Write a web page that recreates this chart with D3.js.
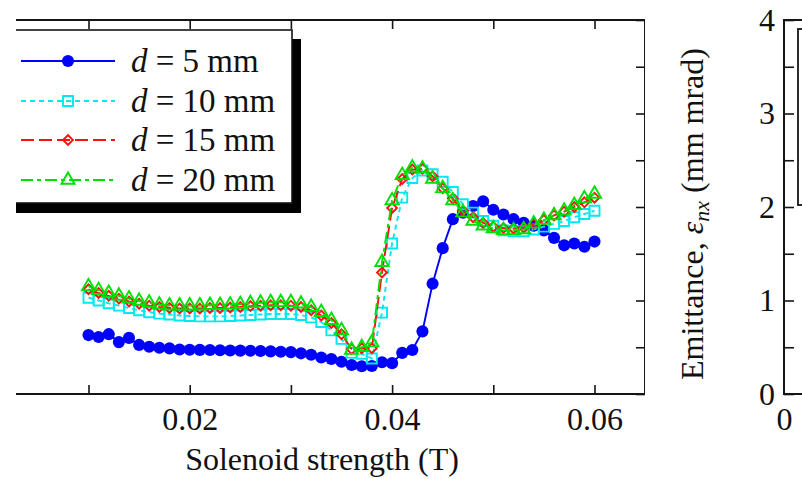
<!DOCTYPE html>
<html><head><meta charset="utf-8">
<script src="https://cdn.jsdelivr.net/npm/d3@7/dist/d3.min.js"></script>
<style>
body{margin:0;background:#fff}
svg{display:block}
text{font-family:"Liberation Serif","Times New Roman",serif;fill:#111}
</style>
</head><body>
<svg id="c" width="802" height="479"></svg>
<script>
// ---------------- data ----------------
const solenoid = [0.010,0.011,0.012,0.013,0.014,0.015,0.016,0.017,0.018,0.019,
  0.020,0.021,0.022,0.023,0.024,0.025,0.026,0.027,0.028,0.029,
  0.030,0.031,0.032,0.033,0.034,0.035,0.036,0.037,0.038,0.039,
  0.040,0.041,0.042,0.043,0.044,0.045,0.046,0.047,0.048,0.049,
  0.050,0.051,0.052,0.053,0.054,0.055,0.056,0.057,0.058,0.059,0.060];

const emit_d5 = [0.63,0.61,0.64,0.555,0.60,0.525,0.505,0.495,0.488,0.476,
  0.474,0.472,0.47,0.468,0.466,0.464,0.462,0.46,0.456,0.452,
  0.448,0.435,0.42,0.39,0.375,0.345,0.31,0.296,0.30,0.34,
  0.33,0.44,0.47,0.67,1.18,1.56,1.87,1.94,2.01,2.06,
  1.97,1.92,1.87,1.83,1.80,1.75,1.67,1.59,1.61,1.575,1.63];

const emit_d10 = [1.03,1.00,0.97,0.945,0.92,0.895,0.875,0.86,0.85,0.84,
  0.835,0.83,0.83,0.83,0.835,0.84,0.845,0.85,0.855,0.855,
  0.855,0.845,0.82,0.77,0.68,0.59,0.44,0.43,0.38,0.87,
  1.61,2.10,2.31,2.39,2.35,2.27,2.16,2.03,1.94,1.85,
  1.80,1.75,1.74,1.74,1.76,1.79,1.82,1.85,1.89,1.925,1.96];

const emit_d15 = [1.12,1.08,1.05,1.02,0.99,0.965,0.945,0.93,0.92,0.915,
  0.915,0.915,0.92,0.92,0.925,0.93,0.94,0.945,0.95,0.95,
  0.945,0.93,0.895,0.84,0.76,0.64,0.48,0.49,0.49,1.30,
  1.99,2.30,2.40,2.41,2.33,2.20,2.09,1.96,1.89,1.83,
  1.79,1.775,1.77,1.78,1.82,1.86,1.91,1.95,2.00,2.05,2.10];

const emit_d20 = [1.15,1.11,1.08,1.05,1.02,0.995,0.975,0.955,0.945,0.945,
  0.945,0.945,0.95,0.95,0.955,0.96,0.97,0.975,0.98,0.98,
  0.98,0.965,0.93,0.875,0.79,0.68,0.47,0.50,0.55,1.41,
  2.07,2.34,2.42,2.41,2.30,2.20,2.07,1.94,1.85,1.80,
  1.77,1.75,1.75,1.76,1.82,1.86,1.91,1.96,2.02,2.09,2.14];

const legendValues = ["5 mm","10 mm","15 mm","20 mm"];
const xTickValues = [0.01,0.02,0.03,0.04,0.05,0.06];
const xTickLabels = {"0.02":"0.02","0.04":"0.04","0.06":"0.06"};
const yTickValues = [0,0.5,1,1.5,2,2.5,3,3.5,4];
const yTickLabels = {"0":"0","1":"1","2":"2","3":"3","4":"4"};
const xTitle = "Solenoid strength (T)";

// ---------------- layout ----------------
const svg = d3.select("#c");
const INK = "#151515";
const L = 16, R = 645, T = 20, B = 394;
const x = d3.scaleLinear().domain([0.01,0.06]).range([88.5,594.5]);
const y = d3.scaleLinear().domain([0,4]).range([B,T]);

svg.append("defs").append("clipPath").attr("id","clipL")
  .append("rect").attr("x",L).attr("y",0).attr("width",R-L).attr("height",479);

const gL = svg.append("g").attr("clip-path","url(#clipL)");

// bottom axis (ticks inward)
const axB = d3.axisBottom(x).tickValues(xTickValues).tickSize(-9).tickPadding(13)
  .tickFormat(d => xTickLabels[d3.format(".2f")(d)] || "");
const gB = gL.append("g").attr("transform",`translate(0,${B})`).call(axB);
const axT = d3.axisTop(x).tickValues(xTickValues).tickSize(-9).tickFormat("");
const gT = gL.append("g").attr("transform",`translate(0,${T})`).call(axT);
// right axis of left panel
const axR = d3.axisRight(y).tickValues(yTickValues).tickSize(-9).tickFormat("");
const gR = gL.append("g").attr("transform",`translate(${R},0)`).call(axR);
[gB,gT,gR].forEach(g=>{
  g.select(".domain").remove();
  g.selectAll(".tick line").attr("stroke",INK).attr("stroke-width",1.6);
  g.selectAll(".tick text").attr("font-size",32).attr("fill","#111")
    .attr("font-family","'Liberation Serif',serif");
});
gL.append("path").attr("d",`M${L-2},${T}H${R}V${B}H${L-2}`)
  .attr("fill","none").attr("stroke",INK).attr("stroke-width",2);

// series
const series = [
  {vals:emit_d5,  color:"#0000ff", dash:null,        marker:"circle"},
  {vals:emit_d10, color:"#00e8f0", dash:"5,4",       marker:"square"},
  {vals:emit_d15, color:"#ff1010", dash:"13,5",      marker:"diamond"},
  {vals:emit_d20, color:"#00e000", dash:"12,4,4,4",  marker:"triangle"}
];
function markerPath(kind){
  if(kind==="circle") return d3.symbol(d3.symbolCircle, 115)();
  if(kind==="square") return d3.symbol(d3.symbolSquare, 100)();
  if(kind==="diamond") return d3.symbol(d3.symbolSquare, 48)();
  return d3.symbol(d3.symbolTriangle, 75)();
}
function drawMarker(g, s, cx, cy){
  const p = g.append("path").attr("d", markerPath(s.marker))
    .attr("transform",`translate(${cx},${cy})` + (s.marker==="diamond"?" rotate(45)":""));
  if(s.marker==="circle") p.attr("fill",s.color).attr("stroke","none");
  else p.attr("fill","none").attr("stroke",s.color).attr("stroke-width",1.9);
}
const line = d3.line().x((d,i)=>x(solenoid[i])).y(d=>y(d));
series.forEach(s=>{
  const g = gL.append("g");
  g.append("path").attr("d",line(s.vals)).attr("fill","none")
    .attr("stroke",s.color).attr("stroke-width",1.9)
    .attr("stroke-dasharray",s.dash);
  s.vals.forEach((v,i)=>drawMarker(g,s,x(solenoid[i]),y(v)));
});

// legend
const lg = gL.append("g");
lg.append("rect").attr("x",L-4).attr("y",39).attr("width",301-(L-4)).attr("height",174).attr("fill","#000");
lg.append("rect").attr("x",L-4).attr("y",30).attr("width",292-(L-4)).attr("height",173)
  .attr("fill","#fff").attr("stroke",INK).attr("stroke-width",1.6);
const rowY = [61,101,140,180];
series.forEach((s,i)=>{
  const ry = rowY[i];
  lg.append("line").attr("x1",21).attr("x2",115).attr("y1",ry).attr("y2",ry)
    .attr("stroke",s.color).attr("stroke-width",1.9).attr("stroke-dasharray",s.dash);
  drawMarker(lg,s,68,ry);
  const t = lg.append("text").attr("x",131).attr("y",ry+11).attr("font-size",33);
  t.append("tspan").attr("font-style","italic").text("d");
  t.append("tspan").text(" = " + legendValues[i]);
});

// x title
svg.append("text").attr("x",322).attr("y",470).attr("text-anchor","middle")
  .attr("font-size",32).text(xTitle);

// ---------------- right panel (partially visible) ----------------
const RX = 784;
const axR2 = d3.axisLeft(y).tickValues(yTickValues).tickSize(-10).tickPadding(9)
  .tickFormat(d => yTickLabels[String(d)] || "");
const gR2 = svg.append("g").attr("transform",`translate(${RX},0)`).call(axR2);
gR2.select(".domain").remove();
gR2.selectAll(".tick line").attr("stroke",INK).attr("stroke-width",1.6);
gR2.selectAll(".tick text").attr("font-size",32).attr("fill","#111")
  .attr("font-family","'Liberation Serif',serif");
svg.append("path").attr("d",`M806,${T}H${RX}V${B}H806`).attr("fill","none")
  .attr("stroke",INK).attr("stroke-width",2);
const x2 = d3.scaleLinear().domain([0,1]).range([RX,RX+200]);
const gX2 = svg.append("g").attr("transform",`translate(0,${B})`)
  .call(d3.axisBottom(x2).tickValues([0]).tickSize(0).tickPadding(13).tickFormat(d3.format("d")));
gX2.select(".domain").remove();
gX2.selectAll(".tick text").attr("font-size",32).attr("fill","#111")
  .attr("font-family","'Liberation Serif',serif");
svg.append("rect").attr("x",798).attr("y",29).attr("width",30).attr("height",176)
  .attr("fill","none").attr("stroke",INK).attr("stroke-width",1.8);

// y title
const yt = svg.append("text").attr("transform","translate(703,214) rotate(-90)")
  .attr("text-anchor","middle").attr("font-size",32);
yt.append("tspan").text("Emittance, ");
yt.append("tspan").attr("font-style","italic").text("ε");
yt.append("tspan").attr("font-style","italic").attr("font-size",22).attr("dy",6).text("nx");
yt.append("tspan").attr("dy",-6).text(" (mm mrad)");
</script>
</body></html>
